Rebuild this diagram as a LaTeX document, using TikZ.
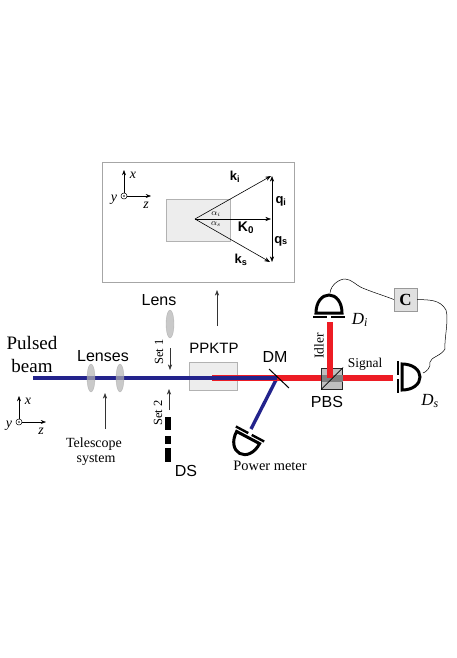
\documentclass[tikz,border=0pt]{standalone}
\usepackage{fontspec}
\setmainfont{Liberation Serif}
\setsansfont{Liberation Sans}
\usepackage{tikz}
\usetikzlibrary{arrows.meta, calc, shapes.geometric}
\definecolor{pump_blue}{RGB}{35, 35, 140}
\definecolor{beam_red}{RGB}{237, 28, 36}

\begin{document}
\begin{tikzpicture}[x=1pt, y=-1pt, >=Stealth,
      sans/.style={font=\fontsize{16}{18}\selectfont\sffamily, inner sep=0pt},
      serif/.style={font=\fontsize{14}{16}\selectfont, inner sep=0pt},
      ital/.style={font=\fontsize{17}{18}\selectfont\itshape, inner sep=0pt},
      vec/.style={font=\fontsize{13}{15}\selectfont\sffamily\bfseries, inner sep=0pt},
      lens/.style={draw=black!35, fill=black!30, ellipse, minimum width=8pt, minimum height=28pt, inner sep=0pt, opacity=.7},
      crystal/.style={draw=black!30, fill=black!7, line width=1pt, inner sep=0pt},
      pointer/.style={->, draw=black!80, line width=.6pt},
      blue beam/.style={draw=pump_blue, line width=3.4pt},
      red beam/.style={draw=beam_red, line width=6pt},
      wire/.style={draw=black, line width=.5pt},
      bit/.style={fill=black, inner sep=0pt, minimum width=6pt}]
    \useasboundingbox (0,0) rectangle (457,658);
    % inset
    \node[draw=black!35, line width=.6pt, minimum width=192pt, minimum height=120pt, inner sep=0pt] (inset) at (198,222) {};
    \node[crystal, minimum width=64pt, minimum height=42pt] (xtal) at (198,220) {};
    \coordinate (o) at (195,219);
    \coordinate (ki) at (271,176);
    \coordinate (ks) at (270,262);
    \coordinate (k0) at (271,219);
    \draw[->, line width=.6pt] (o) -- (ki);
    \draw[->, line width=.6pt] (o) -- (ks);
    \draw[->, line width=.6pt] (o) -- (k0);
    \coordinate (qa) at (272,176);
    \coordinate (qb) at (272,262);
    \draw[<->, line width=.6pt] (qa) -- (qb);
    \node[vec] (lki) at (235,177) {k\textsubscript{i}};
    \node[vec] (lks) at (241,260) {k\textsubscript{s}};
    \node[vec, font=\fontsize{14}{16}\selectfont\sffamily\bfseries] (lk0) at (246,228) {K\textsubscript{0}};
    \node[vec] (lqi) at (281,201) {q\textsubscript{i}};
    \node[vec] (lqs) at (281,241) {q\textsubscript{s}};
    \node[inner sep=0pt, font=\fontsize{9}{9}\selectfont] (ai) at (216,214) {$\alpha_i$};
    \node[inner sep=0pt, font=\fontsize{9}{9}\selectfont] (as) at (216,224) {$\alpha_s$};
    % axes
    \foreach \n/\x/\y in {a/124/196, b/19/422} {
      \node[draw, circle, line width=.5pt, minimum size=6pt, inner sep=0pt] (\n o) at (\x,\y) {};
      \fill (\x,\y) circle (.9pt);
      \coordinate (\n x) at (\x,\y-26);
      \coordinate (\n z) at (\x+27,\y);
      \draw[->, line width=.5pt] (\n o) -- (\n x);
      \draw[->, line width=.5pt] (\n o) -- (\n z);
      \node[serif, font=\fontsize{14}{16}\selectfont\itshape] (\n lx) at (\x+9,\y-21) {x};
      \node[serif, font=\fontsize{14}{16}\selectfont\itshape] (\n ly) at (\x-10,\y+4) {y};
      \node[serif, font=\fontsize{14}{16}\selectfont\itshape] (\n lz) at (\x+22,\y+9) {z};
    }
    % beams
    \coordinate (start) at (33,378);
    \coordinate (redstart) at (212,378);
    \coordinate (dm) at (277,378);
    \coordinate (pbs) at (332,378);
    \coordinate (sig) at (393,378);
    \coordinate (idl) at (330,322);
    \coordinate (pm) at (251,429);
    \node[crystal, minimum width=48pt, minimum height=28pt] (ppktp) at (213,376) {};
    \draw[blue beam] (dm) -- (pm);
    \draw[red beam] (redstart) -- (sig);
    \draw[blue beam] (start) -- (dm);
    \node[lens] (l1) at (91,378) {};
    \node[lens] (l2) at (120,378) {};
    \node[lens] (l3) at (170,324) {};
    % dichroic and cube
    \draw[line width=1pt] (269,369) -- (289,388);
    \node[draw=black!85, line width=1pt, fill=black!25, minimum size=21pt, inner sep=0pt] (cube) at (332,378.5) {};
    \fill[black!50] ($(cube.west)+(.5,-4)$) rectangle ($(cube.east)+(-.5,3)$);
    \draw[red beam] (idl) -- (idl |- pbs);
    \draw[line width=.7pt] (cube.south west) -- (cube.north east);
    % detectors
    \foreach \x/\y/\a in {329/317/0, 398/377/-90, 250/434/152} {
      \begin{scope}[shift={(\x,\y)}, rotate=\a]
        \draw[line width=3pt] (-13,-4) .. controls (-13,-15) and (-7,-22) .. (0,-22) .. controls (7,-22) and (13,-15) .. (13,-4) -- cycle;
        \draw[line width=2.4pt] (-16,0) -- (-2,0) (2,0) -- (16,0);
      \end{scope}
    }
    % coincidence
    \node[draw=black!40, fill=black!12, minimum size=23pt, inner sep=0pt, font=\fontsize{17}{17}\selectfont\bfseries] (c) at (405.5,299.5) {C};
    \coordinate (di top) at (330,293);
    \coordinate (ds top) at (423,373);
    \draw[wire] (di top) .. controls (331,284) and (340,279) .. (345,279) .. controls (352,279) and (356,286) .. (365,289) .. controls (375,293) and (385,296) .. (c.west);
    \draw[wire] (c.east) .. controls (428,300) and (440,299) .. (446,310) .. controls (449,320) and (444,340) .. (445,349) .. controls (441,356) and (431,357) .. (430,362) .. controls (431,368) and (426,372) .. (ds top);
    % slit
    \node[bit, minimum height=13pt] (s1) at (168,423.5) {};
    \node[bit, minimum height=8pt] (s2) at (168,440) {};
    \node[bit, minimum height=14pt] (s3) at (168,455) {};
    % pointers
    \coordinate (p1) at (105,429); \coordinate (p1e) at (105,393);
    \coordinate (p2) at (170,348); \coordinate (p2e) at (170,370);
    \coordinate (p3) at (169,410); \coordinate (p3e) at (169,389);
    \coordinate (p4) at (217,326); \coordinate (p4e) at (217,290);
    \foreach \a/\b in {p1/p1e, p2/p2e, p3/p3e, p4/p4e} \draw[pointer] (\a) -- (\b);
    % labels
    \node[serif, font=\fontsize{19}{21}\selectfont] (t1) at (32,343) {Pulsed};
    \node[serif, font=\fontsize{19}{21}\selectfont] (t2) at (32,366) {beam};
    \node[sans] (t3) at (103,356) {Lenses};
    \node[serif] (t4) at (94,444) {Telescope};
    \node[serif] (t5) at (96,460) {system};
    \node[serif, font=\fontsize{12.5}{14}\selectfont, rotate=90] (t6) at (159,352) {Set 1};
    \node[serif, font=\fontsize{12.5}{14}\selectfont, rotate=90] (t7) at (158,413) {Set 2};
    \node[sans] (t8) at (159,300) {Lens};
    \node[sans, font=\fontsize{15}{17}\selectfont\sffamily] (t9) at (214,348) {PPKTP};
    \node[sans] (t10) at (275,357) {DM};
    \node[serif, font=\fontsize{13.5}{15}\selectfont, rotate=90] (t11) at (319,346) {Idler};
    \node[serif, font=\fontsize{13.5}{15}\selectfont] (t12) at (365,364) {Signal};
    \node[sans] (t13) at (327,402) {PBS};
    \node[serif, font=\fontsize{14.4}{16}\selectfont] (t14) at (270,466) {Power meter};
    \node[ital] (t15) at (360,320) {D\textsubscript{i}};
    \node[ital] (t16) at (430,401) {D\textsubscript{s}};
    \node[sans] (t17) at (186,471) {DS};
  \end{tikzpicture}
\end{document}
